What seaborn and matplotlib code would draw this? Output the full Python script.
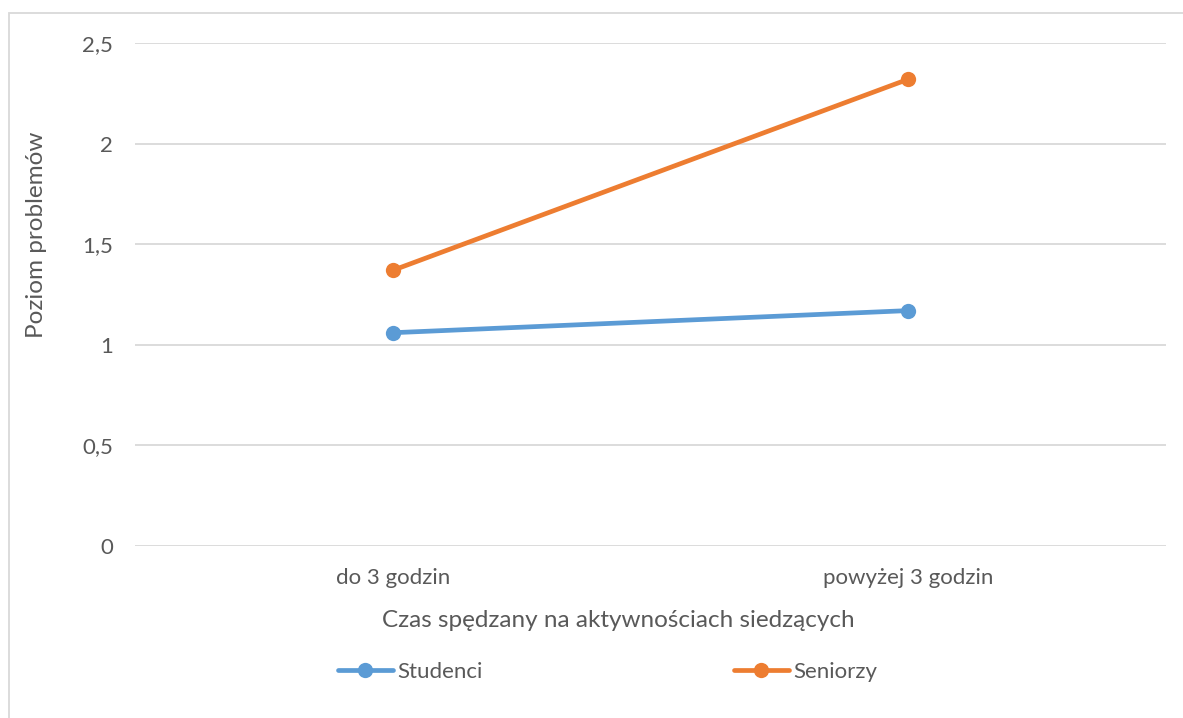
import matplotlib
matplotlib.use("Agg")
import matplotlib.pyplot as plt
import seaborn as sns
import pandas as pd
from matplotlib.ticker import FuncFormatter
from matplotlib.lines import Line2D
from matplotlib.patches import Rectangle

categories = ["do 3 godzin", "powyżej 3 godzin"]
groups = ["Studenci", "Seniorzy"]
studenci = [1.06, 1.17]
seniorzy = [1.37, 2.32]
y_ticks = [0, 0.5, 1, 1.5, 2, 2.5]

colors = {"Studenci": "#5B9BD5", "Seniorzy": "#ED7D31"}
text_color = "#595959"
grid_color = "#D9D9D9"

df = pd.DataFrame({
    "czas": categories * 2,
    "grupa": [groups[0]] * 2 + [groups[1]] * 2,
    "poziom": studenci + seniorzy,
})

sns.set_theme(style="white")
plt.rcParams["font.family"] = ["Lato", "DejaVu Sans"]

fig = plt.figure(figsize=(11.83, 7.18), dpi=100)
ax = fig.add_axes([135 / 1183, 1 - 546 / 718, 1031 / 1183, 503 / 718])

sns.lineplot(data=df, x="czas", y="poziom", hue="grupa", palette=colors,
             marker="o", markersize=11, markeredgewidth=0, linewidth=3.4,
             sort=False, legend=False, ax=ax)

ax.set_xlim(-0.5, 1.5)
ax.set_ylim(0, 2.5)
ax.set_yticks(y_ticks)
ax.yaxis.set_major_formatter(FuncFormatter(lambda v, p: f"{v:g}".replace(".", ",")))
ax.grid(axis="y", color=grid_color, linewidth=1.3)
ax.set_axisbelow(True)
for s in ax.spines.values():
    s.set_visible(False)
ax.tick_params(axis="both", length=0, labelsize=16, colors=text_color)
ax.tick_params(axis="y", pad=16)
ax.tick_params(axis="x", pad=16)

ax.set_xlabel("Czas spędzany na aktywnościach siedzących", fontsize=17.5,
              color=text_color, labelpad=16, x=0.4685)
ax.set_ylabel("Poziom problemów", fontsize=17.5, color=text_color)
ax.yaxis.set_label_coords(-0.085, 0.618)

handles = [Line2D([], [], color=colors[g], marker="o", markersize=11,
                  markeredgewidth=0, linewidth=3.4) for g in groups]
fig.legend(handles, groups, loc="center", bbox_to_anchor=(0.5135, 0.064), ncol=2,
           frameon=False, fontsize=16, handlelength=2.5, handletextpad=0.18,
           columnspacing=11.3, labelcolor=text_color)

fig.patches.append(Rectangle((9 / 1183, -0.01), 1.02, 1 - 13 / 718 + 0.01,
                             transform=fig.transFigure, fill=False,
                             edgecolor=grid_color, linewidth=1.3))

fig.savefig("out.png", dpi=100)
